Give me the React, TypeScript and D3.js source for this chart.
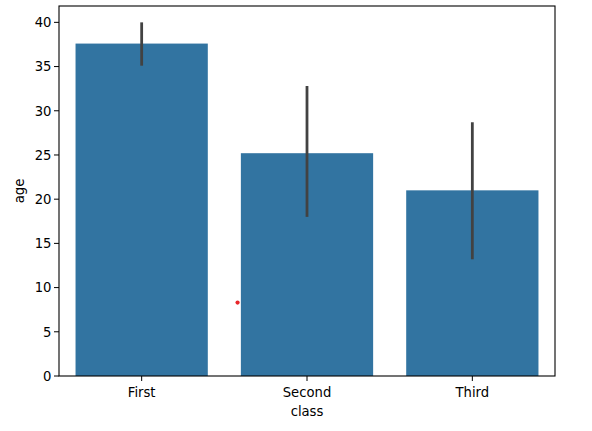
import React, { useRef, useEffect } from 'react';
import * as d3 from 'd3';

const categories = ['First', 'Second', 'Third'];
const means = [37.6, 25.2, 21.0];
const ciLow = [35.1, 18.0, 13.2];
const ciHigh = [40.0, 32.8, 28.7];
const yTicks = [0, 5, 10, 15, 20, 25, 30, 35, 40];
// stray red marker seen in the picture: [x position in category units, y value]
const strayPoints: [number, number][] = [[0.58, 8.3]];

const App: React.FC = () => {
  const svgRef = useRef<SVGSVGElement>(null);

  useEffect(() => {
    if (!svgRef.current) return;
    const svg = d3.select(svgRef.current);
    svg.selectAll('*').remove();

    const width = 592;
    const height = 431;
    const margin = { top: 6, right: 37, bottom: 55, left: 59 };
    const innerWidth = width - margin.left - margin.right;
    const innerHeight = height - margin.top - margin.bottom;
    const font = 'DejaVu Sans, sans-serif';
    const fontSize = '13.2px';

    const xPos = d3.scaleLinear().domain([-0.5, 2.5]).range([0, innerWidth]);
    const yScale = d3.scaleLinear().domain([0, 41.85]).range([innerHeight, 0]);
    const barW = xPos(0.8) - xPos(0);

    const g = svg.append('g').attr('transform', `translate(${margin.left},${margin.top})`);

    // Bars
    g.selectAll('.bar')
      .data(categories)
      .enter().append('rect')
      .attr('x', (_d, i) => xPos(i) - barW / 2)
      .attr('width', barW)
      .attr('y', (_d, i) => yScale(means[i]))
      .attr('height', (_d, i) => innerHeight - yScale(means[i]))
      .attr('fill', '#3274a1');

    // Error bars
    g.selectAll('.err')
      .data(categories)
      .enter().append('line')
      .attr('x1', (_d, i) => xPos(i))
      .attr('x2', (_d, i) => xPos(i))
      .attr('y1', (_d, i) => yScale(ciLow[i]))
      .attr('y2', (_d, i) => yScale(ciHigh[i]))
      .attr('stroke', '#424242')
      .attr('stroke-width', 2.8);

    // Stray marker
    g.selectAll('.pt')
      .data(strayPoints)
      .enter().append('circle')
      .attr('cx', d => xPos(d[0]))
      .attr('cy', d => yScale(d[1]))
      .attr('r', 2.1)
      .attr('fill', '#e8262a');

    // Y axis ticks
    const yAxis = g.append('g');
    yTicks.forEach(t => {
      yAxis.append('line')
        .attr('x1', -5).attr('x2', 0)
        .attr('y1', yScale(t)).attr('y2', yScale(t))
        .attr('stroke', 'black').attr('stroke-width', 1);
      yAxis.append('text')
        .attr('x', -7.5)
        .attr('y', yScale(t))
        .attr('dy', '0.36em')
        .attr('text-anchor', 'end')
        .style('font-family', font)
        .style('font-size', fontSize)
        .attr('fill', 'black')
        .text(t);
    });

    // X axis ticks
    const xAxis = g.append('g').attr('transform', `translate(0,${innerHeight})`);
    categories.forEach((c, i) => {
      xAxis.append('line')
        .attr('x1', xPos(i)).attr('x2', xPos(i))
        .attr('y1', 0).attr('y2', 5)
        .attr('stroke', 'black').attr('stroke-width', 1);
      xAxis.append('text')
        .attr('x', xPos(i))
        .attr('y', 20.5)
        .attr('text-anchor', 'middle')
        .style('font-family', font)
        .style('font-size', fontSize)
        .attr('fill', 'black')
        .text(c);
    });

    // Frame
    g.append('rect')
      .attr('x', 0).attr('y', 0)
      .attr('width', innerWidth).attr('height', innerHeight)
      .attr('fill', 'none')
      .attr('stroke', 'black')
      .attr('stroke-width', 1.1);

    // Axis titles
    g.append('text')
      .attr('x', innerWidth / 2)
      .attr('y', innerHeight + 39.5)
      .attr('text-anchor', 'middle')
      .style('font-family', font)
      .style('font-size', fontSize)
      .attr('fill', 'black')
      .text('class');

    g.append('text')
      .attr('transform', 'rotate(-90)')
      .attr('x', -innerHeight / 2)
      .attr('y', -margin.left + 24)
      .attr('text-anchor', 'middle')
      .style('font-family', font)
      .style('font-size', fontSize)
      .attr('fill', 'black')
      .text('age');
  }, []);

  return (
    <svg
      ref={svgRef}
      width={592}
      height={431}
      style={{ position: 'absolute', left: 0, top: 0, background: 'white' }}
    ></svg>
  );
};

export default App;
